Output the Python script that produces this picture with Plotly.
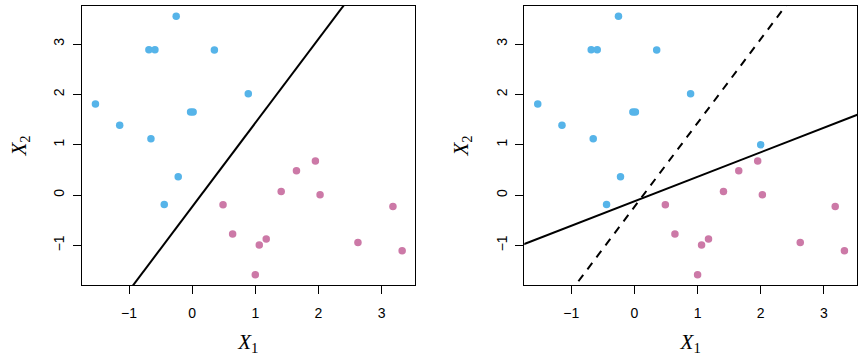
import plotly.graph_objects as go

# Observations (class 1: blue, class 2: pink)
blue_x = [-0.253, -0.685, -0.59, 0.352, 0.889, -1.532, -1.148, -0.653, -0.025, 0.015, -0.221, -0.442]
blue_y = [3.55, 2.887, 2.887, 2.88, 2.013, 1.81, 1.387, 1.121, 1.651, 1.651, 0.363, -0.186]
pink_x = [1.952, 1.652, 1.41, 2.026, 0.489, 3.18, 0.641, 1.173, 1.063, 2.626, 3.326, 1.0]
pink_y = [0.675, 0.482, 0.071, 0.006, -0.192, -0.226, -0.774, -0.873, -0.992, -0.94, -1.105, -1.582]
# additional blue observation in right panel
extra_x = [2.0]
extra_y = [1.0]

# Hyperplanes: X2 = slope * X1 + intercept
orig_slope, orig_intercept = 1.666, -0.233
new_slope, new_intercept = 0.487, -0.123

x_ticks = [-1, 0, 1, 2, 3]
y_ticks = [-1, 0, 1, 2, 3]
x_range = [-1.745, 3.525]
y_range = [-1.786, 3.755]

BLUE = "#56B4E9"
PINK = "#CC79A7"

fig = go.Figure()

def line_pts(slope, intercept):
    xs = [x_range[0] - 1, x_range[1] + 1]
    return xs, [slope * x + intercept for x in xs]

for ax, with_extra in (("", False), ("2", True)):
    xa = "x" + ax
    ya = "y" + ax
    bx = blue_x + (extra_x if with_extra else [])
    by = blue_y + (extra_y if with_extra else [])
    fig.add_trace(go.Scatter(x=bx, y=by, mode="markers", xaxis=xa, yaxis=ya,
                             marker=dict(color=BLUE, size=7.5), showlegend=False))
    fig.add_trace(go.Scatter(x=pink_x, y=pink_y, mode="markers", xaxis=xa, yaxis=ya,
                             marker=dict(color=PINK, size=7.5), showlegend=False))
    lx, ly = line_pts(orig_slope, orig_intercept)
    fig.add_trace(go.Scatter(x=lx, y=ly, mode="lines", xaxis=xa, yaxis=ya,
                             line=dict(color="black", width=2,
                                       dash="8px,7px" if with_extra else "solid"),
                             showlegend=False))
    if with_extra:
        lx, ly = line_pts(new_slope, new_intercept)
        fig.add_trace(go.Scatter(x=lx, y=ly, mode="lines", xaxis=xa, yaxis=ya,
                                 line=dict(color="black", width=2), showlegend=False))

tickfont = dict(family="Liberation Sans, Arial", size=14, color="black")
titlefont = dict(family="Liberation Serif, DejaVu Serif, serif", size=21, color="black")

def xaxis(domain, anchor):
    return dict(domain=domain, anchor=anchor, range=x_range, tickvals=x_ticks,
                ticktext=[str(t).replace("-", "\u2212") for t in x_ticks],
                ticks="outside", ticklen=8, tickcolor="black", tickwidth=1,
                showline=True, linecolor="black", linewidth=1, mirror=True,
                showgrid=False, zeroline=False, tickfont=tickfont,
                ticklabelstandoff=7, automargin=False,
                title=dict(text="<i>X</i><sub>1</sub>", font=titlefont, standoff=22))

def yaxis(anchor):
    return dict(domain=[0, 1], anchor=anchor, range=y_range, tickvals=y_ticks,
                ticktext=[str(t).replace("-", "\u2212") for t in y_ticks],
                ticks="outside", ticklen=8, tickcolor="black", tickwidth=1,
                showline=True, linecolor="black", linewidth=1, mirror=True,
                showgrid=False, zeroline=False, tickfont=tickfont, tickangle=-90,
                ticklabelstandoff=3, automargin=False,
                title=dict(text="<i>X</i><sub>2</sub>", font=titlefont, standoff=19))

fig.update_layout(
    width=864, height=356,
    margin=dict(l=82, r=7, t=6, b=71),
    paper_bgcolor="white", plot_bgcolor="white",
    xaxis=xaxis([0, 0.4293], "y"),
    yaxis=yaxis("x"),
    xaxis2=xaxis([0.5707, 1], "y2"),
    yaxis2=yaxis("x2"),
)

fig.write_html("out.html", config={"displayModeBar": False},
               post_script="document.body.style.margin='0';document.body.style.overflow='hidden';")
